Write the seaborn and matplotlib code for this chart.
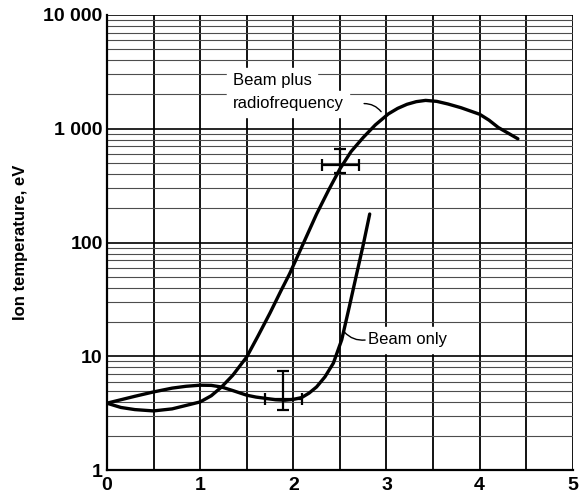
import numpy as np
import pandas as pd
import matplotlib
matplotlib.use("Agg")
import matplotlib.pyplot as plt
from matplotlib.ticker import FixedLocator, NullFormatter
import seaborn as sns

# === Data ===
rf_x = [0.0, 0.15, 0.3, 0.5, 0.7, 0.85, 1.0, 1.12, 1.23, 1.35, 1.5, 1.62, 1.75, 1.87, 1.96,
        2.1, 2.25, 2.38, 2.5, 2.62, 2.75, 2.88, 3.02, 3.12, 3.22, 3.32, 3.42, 3.54, 3.66,
        3.8, 4.0, 4.1, 4.2, 4.3, 4.41]
rf_y = [3.87, 3.55, 3.4, 3.31, 3.45, 3.7, 3.97, 4.5, 5.37, 6.8, 9.86, 15, 24, 38, 53,
        95, 178, 290, 443, 630, 837, 1080, 1350, 1510, 1640, 1730, 1775, 1740, 1650,
        1530, 1340, 1190, 1025, 920, 816]

beam_x = [0.0, 0.15, 0.3, 0.5, 0.7, 0.85, 1.0, 1.12, 1.23, 1.35, 1.5, 1.6, 1.71, 1.81, 1.91,
          2.0, 2.09, 2.17, 2.25, 2.34, 2.43, 2.52, 2.6, 2.68, 2.75, 2.82]
beam_y = [3.87, 4.15, 4.45, 4.86, 5.25, 5.45, 5.57, 5.55, 5.37, 5.0, 4.55, 4.38, 4.26, 4.15, 4.11,
          4.18, 4.34, 4.75, 5.38, 6.6, 8.7, 14, 27, 53, 95, 178]

# error bars
err_x = [1.89, 2.5]
err_y = [4.2, 480]
err_xlo = [1.70, 2.31]
err_xhi = [2.09, 2.70]
err_ylo = [3.4, 410]
err_yhi = [7.4, 665]

y_ticks = [1, 10, 100, 1000, 10000]
y_labels = ["1", "10", "100", "1 000", "10 000"]
x_ticks = [0, 1, 2, 3, 4, 5]

df = pd.concat([
    pd.DataFrame({"x": rf_x, "y": rf_y, "series": "Beam plus radiofrequency"}),
    pd.DataFrame({"x": beam_x, "y": beam_y, "series": "Beam only"}),
])

sns.set_style("white")
plt.rcParams["font.family"] = ["Liberation Sans", "DejaVu Sans"]
plt.rcParams["text.color"] = "black"
plt.rcParams["axes.labelcolor"] = "black"
plt.rcParams["xtick.color"] = "black"
plt.rcParams["ytick.color"] = "black"

fig = plt.figure(figsize=(5.81, 4.99), dpi=100)
ax = fig.add_axes([0.184, 0.058, 0.802, 0.912])

ax.set_yscale("log")
ax.set_xlim(0, 5)
ax.set_ylim(1, 10000)

# === Graph-paper grid ===
for gx in np.arange(0.5, 5.01, 0.5):
    ax.axvline(gx, color="black", lw=1.3, zorder=1)
for dec in [1, 10, 100, 1000]:
    for m in range(2, 10):
        ax.axhline(dec * m, color="0.3", lw=0.8, zorder=1)
for dec in [10, 100, 1000, 10000]:
    ax.axhline(dec, color="black", lw=1.2, zorder=1)

sns.lineplot(data=df, x="x", y="y", hue="series", palette=["black", "black"],
             estimator=None, sort=False, lw=2.4, legend=False, ax=ax, zorder=3)

xerr = [np.array(err_x) - np.array(err_xlo), np.array(err_xhi) - np.array(err_x)]
yerr = [np.array(err_y) - np.array(err_ylo), np.array(err_yhi) - np.array(err_y)]
ax.errorbar(err_x, err_y, xerr=xerr, yerr=yerr, fmt="none", ecolor="black",
            elinewidth=1.6, capsize=4, capthick=1.6, zorder=4)

# === Labels ===
ax.text(1.35, 2630, "Beam plus", fontsize=12, va="center", ha="left",
        backgroundcolor="white", zorder=5)
ax.text(1.35, 1660, "radiofrequency", fontsize=12, va="center", ha="left",
        backgroundcolor="white", zorder=5)
ax.annotate("", xy=(2.96, 1350), xytext=(2.73, 1660),
            arrowprops=dict(arrowstyle="-", color="black", lw=1.0,
                            connectionstyle="arc3,rad=-0.3"), zorder=5)
ax.text(2.80, 14, "Beam only", fontsize=12, va="center", ha="left",
        backgroundcolor="white", zorder=5)
ax.annotate("", xy=(2.53, 17), xytext=(2.80, 14),
            arrowprops=dict(arrowstyle="-", color="black", lw=1.0,
                            connectionstyle="arc3,rad=-0.3"), zorder=5)

ax.yaxis.set_major_locator(FixedLocator(y_ticks))
ax.set_yticklabels(y_labels)
ax.yaxis.set_minor_formatter(NullFormatter())
ax.set_xticks(x_ticks)
ax.set_xticklabels([str(t) for t in x_ticks])
ax.tick_params(axis="both", which="both", length=0, labelsize=14)
ax.tick_params(axis="y", pad=3)
ax.tick_params(axis="x", pad=5)
for lab in ax.get_xticklabels() + ax.get_yticklabels():
    lab.set_fontweight("bold")

ax.set_xlabel("")
ax.set_ylabel("Ion temperature, eV", fontsize=12, fontweight="bold")
ax.yaxis.set_label_coords(-0.17, 0.5)

sns.despine(ax=ax, top=True, right=True)
for s in ["left", "bottom"]:
    ax.spines[s].set_color("black")
    ax.spines[s].set_linewidth(1.6)

fig.savefig("out.png", dpi=100)
